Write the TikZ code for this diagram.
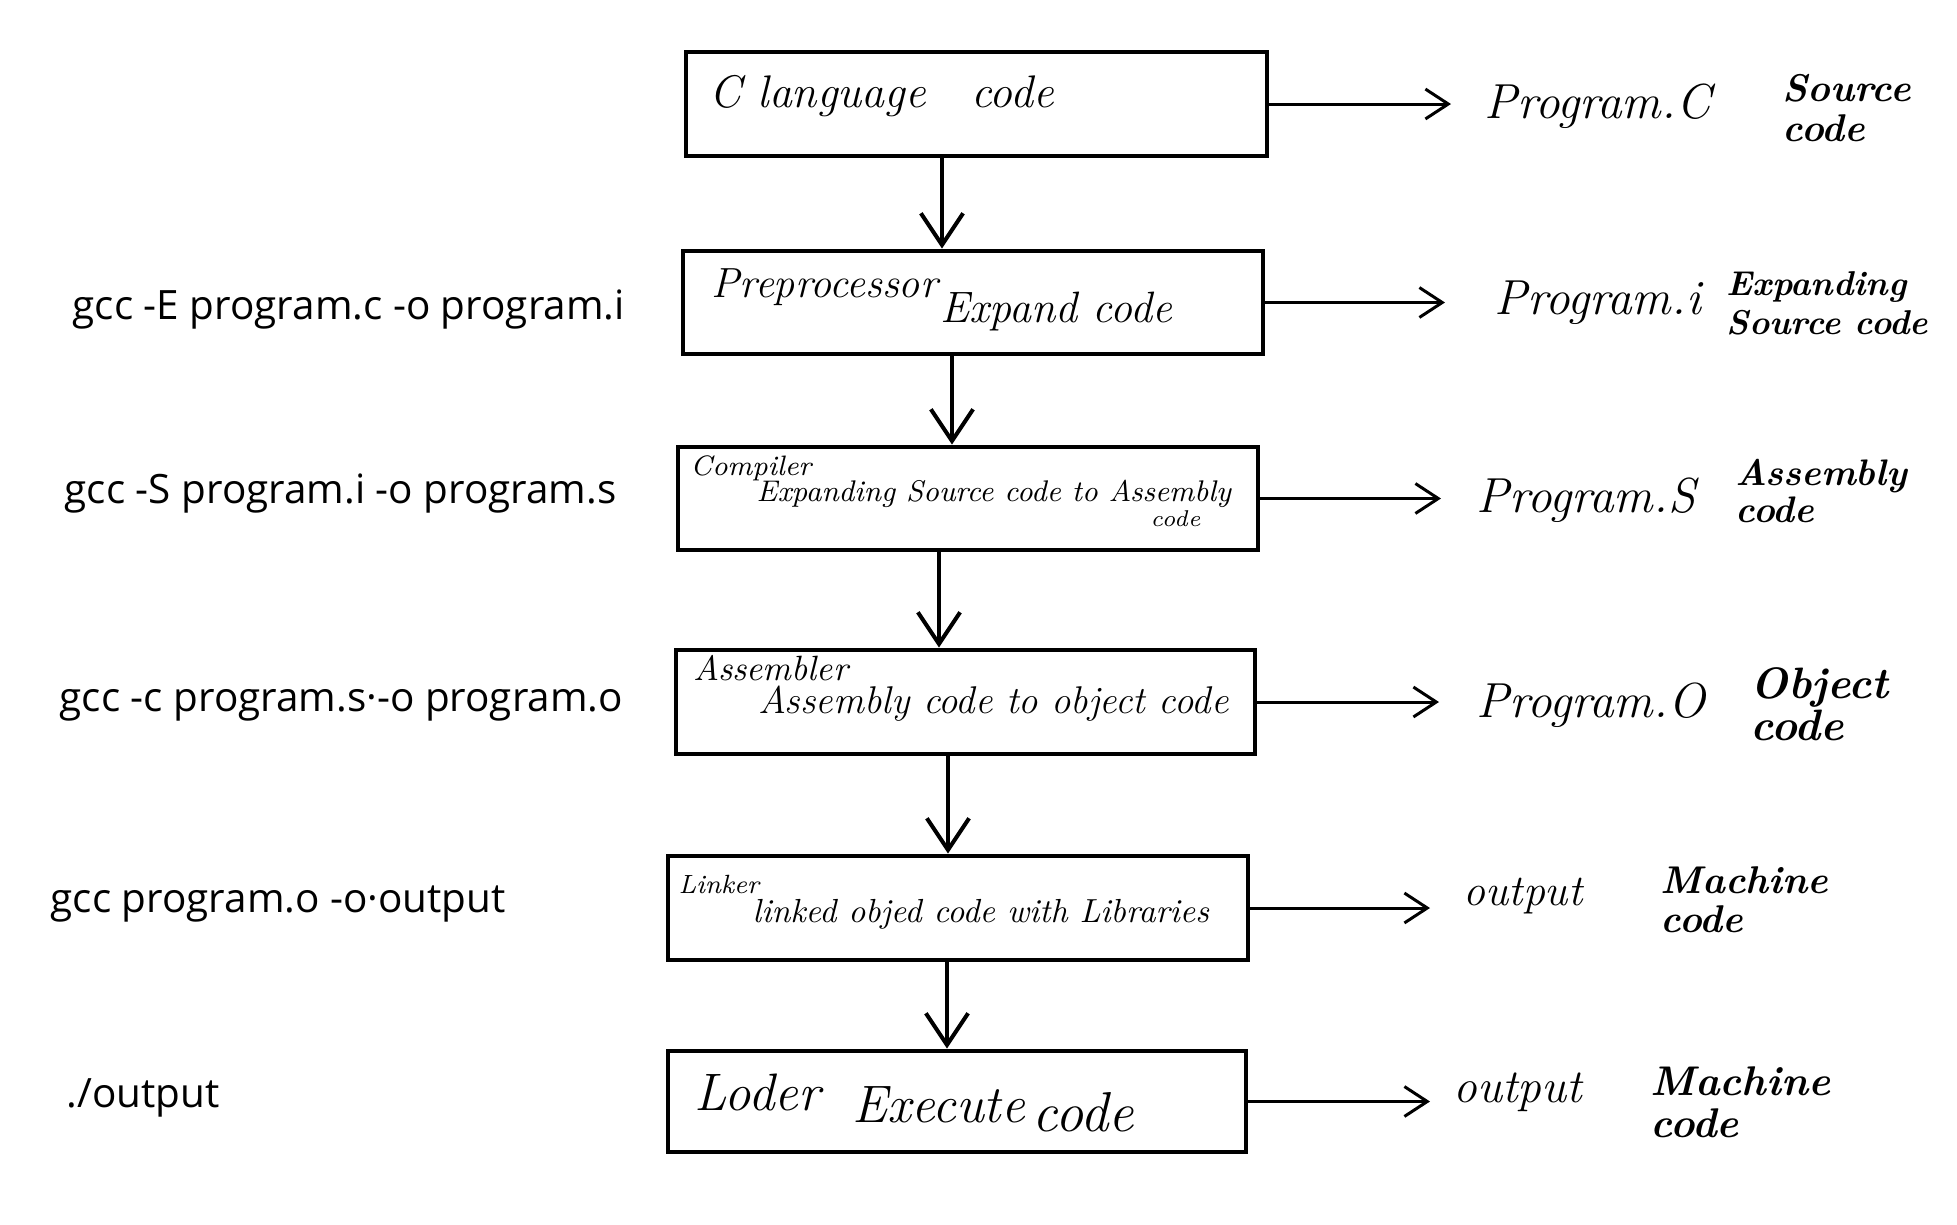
\documentclass[tikz,border=0pt]{standalone}
\usepackage{fontspec}
\setsansfont{Open Sans}
\usetikzlibrary{arrows.meta}
\begin{document}
\begin{tikzpicture}[x=0.1mm,y=-0.1mm,
  box/.style={draw,line width=1.4pt,minimum width=58mm,minimum height=10.3mm,inner sep=0pt},
  hand/.style={font=\itshape,inner sep=0pt,anchor=west},
  cmd/.style={font=\sffamily\fontsize{11.5}{13}\selectfont,inner sep=0pt,anchor=west},
  desc/.style={font=\bfseries\itshape\fontsize{11}{11.5}\selectfont,align=left,inner sep=0pt,anchor=west},
  down/.style={line width=1.15pt,-{Straight Barb[length=9pt,width=12pt,line width=1.15pt]}},
  side/.style={line width=0.85pt,-{Straight Barb[length=6.5pt,width=8.5pt,line width=0.85pt]}}
]
\useasboundingbox (0,0) rectangle (1957,1225);
% boxes
\node[box,minimum width=58.1mm,minimum height=10.4mm] (b1) at (976.5,104) {};
\node[box,minimum width=58.0mm,minimum height=10.3mm] (b2) at (973,302.5) {};
\node[box,minimum width=58.0mm,minimum height=10.3mm] (b3) at (968,498.5) {};
\node[box,minimum width=57.9mm,minimum height=10.4mm] (b4) at (965.5,702) {};
\node[box,minimum width=58.0mm,minimum height=10.4mm] (b5) at (958,908) {};
\node[box,minimum width=57.8mm,minimum height=10.1mm] (b6) at (957,1101.5) {};
% box texts
\node[hand,font=\itshape\fontsize{13}{14}\selectfont] (t1) at (709,96) {C language\quad code};
\node[hand,font=\itshape\fontsize{12}{13}\selectfont] (t2a) at (711,287) {Preprocessor};
\node[hand,font=\itshape\fontsize{12.5}{14}\selectfont] (t2b) at (940,312) {Expand code};
\node[hand,font=\itshape\fontsize{8}{9}\selectfont] (t3a) at (690,468) {Compiler};
\node[hand,font=\itshape\fontsize{8.5}{10}\selectfont] (t3b) at (756,494) {Expanding Source code to Assembly};
\node[hand,font=\itshape\fontsize{6.5}{8}\selectfont] (t3c) at (1150,519) {code};
\node[hand,font=\itshape\fontsize{10}{12}\selectfont] (t4a) at (693,668) {Assembler};
\node[hand,font=\itshape\fontsize{11}{12}\selectfont] (t4b) at (758,704) {Assembly code to object code};
\node[hand,font=\itshape\fontsize{7.5}{9}\selectfont] (t5a) at (678,884) {Linker};
\node[hand,font=\itshape\fontsize{9.5}{10}\selectfont] (t5b) at (752,914) {linked objed code with Libraries};
\node[hand,font=\itshape\fontsize{15}{16}\selectfont] (t6a) at (694,1092) {Loder};
\node[hand,font=\itshape\fontsize{15}{16}\selectfont] (t6b) at (852,1105) {Execute};
\node[hand,font=\itshape\fontsize{16}{16}\selectfont] (t6c) at (1032,1112) {code};
% left commands
\node[cmd] (c1) at (72,310) {gcc -E program.c -o program.i};
\node[cmd] (c2) at (64,494) {gcc -S program.i -o program.s};
\node[cmd] (c3) at (59,705) {gcc -c program.s·-o program.o};
\node[cmd] (c4) at (50,904) {gcc program.o -o·output};
\node[cmd] (c5) at (66,1098) {./output};
% right file labels
\node[hand,font=\itshape\fontsize{14}{15}\selectfont] (p1) at (1484,106) {Program.C};
\node[hand,font=\itshape\fontsize{14}{15}\selectfont] (p2) at (1494,303) {Program.i};
\node[hand,font=\itshape\fontsize{14}{15}\selectfont] (p3) at (1476,500) {Program.S};
\node[hand,font=\itshape\fontsize{14}{15}\selectfont] (p4) at (1476,705) {Program.O};
\node[hand,font=\itshape\fontsize{12.5}{15}\selectfont] (p5) at (1463,896) {output};
\node[hand,font=\itshape\fontsize{13.5}{15}\selectfont] (p6) at (1453,1092) {output};
% descriptions
\node[desc] (d1) at (1782,108) {Source\\code};
\node[desc,font=\bfseries\itshape\fontsize{9.8}{11}\selectfont] (d2) at (1726,303) {Expanding\\Source code};
\node[desc,font=\bfseries\itshape\fontsize{10.5}{10.5}\selectfont] (d3) at (1735,491) {Assembly\\code};
\node[desc,font=\bfseries\itshape\fontsize{12.5}{12}\selectfont] (d4) at (1750,704) {Object\\code};
\node[desc,font=\bfseries\itshape\fontsize{11}{11}\selectfont] (d5) at (1660,900) {Machine\\code};
\node[desc,font=\bfseries\itshape\fontsize{11.8}{12}\selectfont] (d6) at (1650,1102) {Machine\\code};
% vertical connectors
\coordinate (v1) at (942,0);
\coordinate (v2) at (952,0);
\coordinate (v3) at (939,0);
\coordinate (v4) at (948,0);
\coordinate (v5) at (947,0);
\draw[down] (b1.south -| v1) -- (b2.north -| v1);
\draw[down] (b2.south -| v2) -- (b3.north -| v2);
\draw[down] (b3.south -| v3) -- (b4.north -| v3);
\draw[down] (b4.south -| v4) -- (b5.north -| v4);
\draw[down] (b5.south -| v5) -- (b6.north -| v5);
% horizontal connectors
\draw[side] (b1.east) -- ([xshift=-3.3mm]b1.east -| p1.west);
\draw[side] (b2.east) -- ([xshift=-4.9mm]b2.east -| p2.west);
\draw[side] (b3.east) -- ([xshift=-3.5mm]b3.east -| p3.west);
\draw[side] (b4.east) -- ([xshift=-3.7mm]b4.east -| p4.west);
\draw[side] (b5.east) -- ([xshift=-3.3mm]b5.east -| p5.west);
\draw[side] (b6.east) -- ([xshift=-2.3mm]b6.east -| p6.west);
\end{tikzpicture}
\end{document}
